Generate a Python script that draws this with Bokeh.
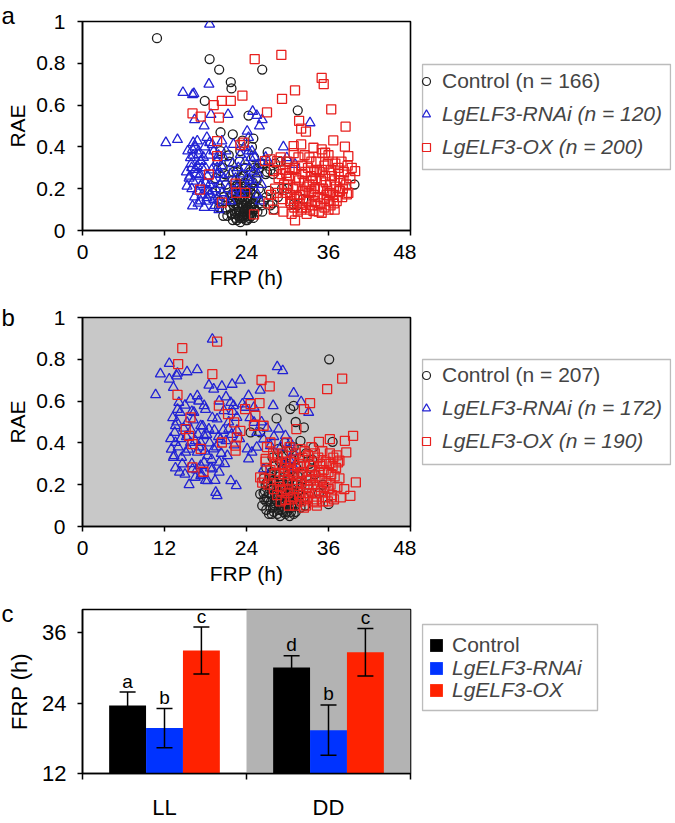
import numpy as np
from bokeh.plotting import figure
from bokeh.layouts import column, row
from bokeh.models import (Range1d, FixedTicker, NumeralTickFormatter, Legend, LegendItem,
                          BoxAnnotation, Whisker, TeeHead, ColumnDataSource)
from bokeh.core.properties import value
from bokeh.embed import file_html
from bokeh.resources import INLINE

FONT = "Liberation Sans"

# ---------------- data ----------------
frp_ticks = [0, 12, 24, 36, 48]
rae_ticks = [0, 0.2, 0.4, 0.6, 0.8, 1.0]

genotypes = ["Control", "LgELF3-RNAi", "LgELF3-OX"]
n_a = [166, 120, 200]
n_b = [207, 172, 190]

# panel a (LL): (FRP h, RAE)
a_control_pts = [
    (10.9, 0.92), (18.6, 0.82), (20.0, 0.77), (26.3, 0.77), (21.7, 0.71), (21.8, 0.68), (17.9, 0.62),
    (31.5, 0.575), (24.3, 0.55), (20.2, 0.47), (22.0, 0.46), (27.1, 0.375), (21.4, 0.36), (23.1, 0.38),
    (25.1, 0.35), (23.8, 0.30), (25.1, 0.30), (26.0, 0.32), (27.0, 0.28), (27.9, 0.27), (29.9, 0.33),
    (29.2, 0.20), (39.8, 0.22), (22.1, 0.28), (23.1, 0.25), (25.5, 0.24), (25.8, 0.20), (25.1, 0.17),
    (26.5, 0.14), (27.5, 0.12), (28.0, 0.10), (26.3, 0.09), (25.1, 0.11), (21.2, 0.07), (22.6, 0.05),
    (24.1, 0.05), (23.4, 0.06), (21.9, 0.08), (24.6, 0.08), (30.9, 0.125), (20.2, 0.20), (20.7, 0.16),
    (20.0, 0.11), (21.7, 0.17),
    (21.8, 0.08), (22.1, 0.12), (22.4, 0.06), (22.6, 0.15), (22.9, 0.09), (23.1, 0.18), (23.3, 0.07),
    (23.5, 0.11), (23.7, 0.14), (23.9, 0.05), (24.1, 0.09), (24.3, 0.16), (24.5, 0.12), (24.7, 0.07),
    (24.9, 0.20), (25.2, 0.10), (22.2, 0.19), (22.7, 0.22), (23.2, 0.13), (23.6, 0.09), (24.0, 0.19),
    (24.4, 0.06), (22.0, 0.14), (23.0, 0.06), (23.8, 0.21), (24.6, 0.15), (25.0, 0.13), (22.5, 0.10),
    (23.4, 0.16), (24.2, 0.11), (21.6, 0.11), (22.8, 0.12), (23.9, 0.12), (24.8, 0.09), (25.4, 0.16),
    (21.9, 0.17), (23.3, 0.20), (24.1, 0.14), (22.3, 0.08), (23.6, 0.06),
    (22.0, 0.05), (22.3, 0.13), (22.5, 0.17), (22.8, 0.07), (23.0, 0.15), (23.2, 0.09), (23.4, 0.12),
    (23.6, 0.18), (23.8, 0.08), (24.0, 0.13), (24.2, 0.07), (24.4, 0.10), (24.6, 0.18), (24.8, 0.13),
    (25.0, 0.06), (23.1, 0.04), (22.4, 0.21), (23.7, 0.23), (24.9, 0.23), (21.8, 0.14), (22.9, 0.19),
    (23.5, 0.07), (24.3, 0.20), (22.6, 0.09), (24.7, 0.11),
    (19.5, 0.25), (20.5, 0.30), (21.0, 0.22), (20.8, 0.27), (21.5, 0.33), (22.0, 0.24), (22.6, 0.28),
    (23.0, 0.33), (23.5, 0.26), (24.2, 0.24), (24.6, 0.28), (25.4, 0.25), (25.8, 0.30), (26.4, 0.32),
    (26.8, 0.27), (27.3, 0.19), (27.8, 0.13), (28.6, 0.16), (26.2, 0.12), (25.6, 0.09), (26.9, 0.16),
    (19.0, 0.18), (20.1, 0.14), (21.0, 0.10), (20.6, 0.07), (28.2, 0.32), (29.0, 0.33), (30.0, 0.20),
    (31.4, 0.12), (32.3, 0.15), (20.2, 0.38), (19.8, 0.33), (24.8, 0.40), (25.0, 0.44), (23.4, 0.43),
    (27.5, 0.29),
]
a_rnai_pts = [
    (18.6, 0.987), (18.5, 0.70), (14.7, 0.66), (16.1, 0.65), (16.3, 0.655), (16.4, 0.53), (17.8, 0.50),
    (18.8, 0.555), (21.3, 0.555), (24.9, 0.57), (25.5, 0.55), (26.3, 0.53), (25.9, 0.50), (33.3, 0.515),
    (29.4, 0.40), (12.2, 0.42), (13.9, 0.435), (24.1, 0.475), (24.3, 0.445), (18.2, 0.445), (18.6, 0.42),
    (16.1, 0.117), (17.8, 0.11), (19.2, 0.11), (19.96, 0.10), (16.2, 0.236), (15.97, 0.30), (15.8, 0.348),
    (16.1, 0.388), (16.8, 0.428), (17.0, 0.364), (17.3, 0.332), (17.5, 0.30), (17.2, 0.268), (18.0, 0.228),
    (18.5, 0.188), (19.2, 0.149), (18.2, 0.157), (17.3, 0.141), (16.8, 0.188), (19.7, 0.30), (20.2, 0.268),
    (19.2, 0.38), (19.7, 0.332), (20.7, 0.348), (22.1, 0.412), (23.1, 0.364), (23.6, 0.396), (24.3, 0.38),
    (24.6, 0.348), (25.1, 0.284), (24.1, 0.252), (25.1, 0.22), (25.6, 0.173), (26.0, 0.141), (22.1, 0.188),
    (21.7, 0.141), (31.1, 0.316), (29.9, 0.348), (20.4, 0.428), (17.3, 0.212), (15.3, 0.212), (15.7, 0.26),
    (16.5, 0.292),
    (15.6, 0.25), (15.9, 0.32), (16.2, 0.36), (16.5, 0.40), (16.8, 0.31), (17.1, 0.26), (17.4, 0.22),
    (17.7, 0.35), (18.0, 0.30), (18.3, 0.26), (18.6, 0.22), (18.9, 0.29), (19.2, 0.24), (19.5, 0.20),
    (19.8, 0.16), (20.1, 0.22), (20.4, 0.18), (20.7, 0.25), (21.0, 0.14), (21.3, 0.20), (16.0, 0.20),
    (16.4, 0.16), (16.9, 0.13), (17.5, 0.17), (18.1, 0.14), (18.7, 0.17), (19.4, 0.12), (16.6, 0.27),
    (17.3, 0.33), (17.9, 0.40), (18.5, 0.36), (19.0, 0.41), (19.7, 0.27), (20.3, 0.31), (21.6, 0.27),
    (22.0, 0.32), (22.4, 0.25), (22.8, 0.30), (23.3, 0.27), (23.8, 0.33), (24.4, 0.30), (24.8, 0.38),
    (25.2, 0.35), (25.7, 0.27), (26.2, 0.22), (22.6, 0.20), (23.2, 0.18), (15.2, 0.28), (15.4, 0.38),
    (16.2, 0.42), (17.0, 0.38), (18.2, 0.19), (19.9, 0.36), (21.0, 0.38), (24.0, 0.20), (24.5, 0.24),
    (25.5, 0.31), (26.8, 0.35), (27.2, 0.33),
]
a_ox_pts = [
    (25.2, 0.82), (29.1, 0.84), (35.0, 0.73), (35.3, 0.70), (31.1, 0.67), (29.2, 0.63), (23.4, 0.645),
    (21.7, 0.62), (20.4, 0.62), (19.2, 0.60), (16.1, 0.56), (17.3, 0.545), (19.96, 0.54), (27.0, 0.565),
    (31.7, 0.525), (32.0, 0.487), (32.7, 0.473), (36.4, 0.58), (38.5, 0.497), (36.7, 0.431), (38.4, 0.401),
    (30.9, 0.404), (32.0, 0.412), (33.8, 0.396), (35.0, 0.388), (35.5, 0.372), (38.9, 0.356), (19.7, 0.428),
    (23.6, 0.42), (23.1, 0.409), (19.7, 0.356), (18.5, 0.268), (17.2, 0.196), (20.4, 0.133), (22.4, 0.224),
    (22.5, 0.18), (23.8, 0.18), (25.1, 0.077), (26.7, 0.332), (27.5, 0.34), (28.0, 0.284), (28.5, 0.332),
    (29.8, 0.276), (31.1, 0.048), (39.9, 0.284), (39.4, 0.30), (38.9, 0.18), (38.7, 0.173), (37.7, 0.188),
    (37.2, 0.141), (36.0, 0.10), (35.0, 0.085), (33.8, 0.093), (32.1, 0.109), (30.4, 0.141), (29.9, 0.204),
    (29.5, 0.22), (29.9, 0.18), (30.2, 0.26), (30.5, 0.13), (30.8, 0.20), (31.1, 0.30), (31.4, 0.16),
    (31.7, 0.24), (32.0, 0.10), (32.3, 0.19), (32.6, 0.28), (32.9, 0.14), (33.2, 0.22), (33.5, 0.33),
    (33.8, 0.17), (34.1, 0.25), (34.4, 0.12), (34.7, 0.20), (35.0, 0.29), (35.3, 0.15), (35.6, 0.23),
    (35.9, 0.32), (36.2, 0.18), (36.5, 0.26), (36.8, 0.13), (37.1, 0.21), (37.4, 0.30), (37.7, 0.24),
    (38.0, 0.16), (38.3, 0.28), (38.6, 0.22), (30.0, 0.33), (30.6, 0.08), (31.0, 0.11), (31.6, 0.35),
    (32.1, 0.31), (32.8, 0.08), (33.0, 0.30), (33.6, 0.12), (33.9, 0.28), (34.2, 0.33), (34.6, 0.09),
    (35.1, 0.37), (35.4, 0.11), (36.0, 0.36), (36.6, 0.33), (36.9, 0.10), (37.3, 0.16), (37.9, 0.33),
    (39.2, 0.25), (29.3, 0.15), (29.6, 0.29), (31.3, 0.21), (31.9, 0.17), (32.4, 0.23), (33.1, 0.18),
    (33.4, 0.26), (34.0, 0.20), (34.9, 0.24), (35.8, 0.19), (36.3, 0.22), (36.7, 0.17), (37.6, 0.19),
    (38.1, 0.20), (30.4, 0.17), (31.8, 0.13), (32.7, 0.11), (34.5, 0.16), (35.2, 0.20), (36.1, 0.14),
    (28.7, 0.25), (28.2, 0.20), (27.6, 0.17), (27.2, 0.13), (28.0, 0.10), (29.0, 0.35), (30.9, 0.37),
    (32.5, 0.36), (30.1, 0.22), (30.7, 0.29), (31.2, 0.25), (31.5, 0.09), (32.2, 0.27), (32.9, 0.21),
    (33.3, 0.10), (33.7, 0.24), (34.3, 0.29), (34.8, 0.13), (35.4, 0.31), (35.7, 0.17), (36.4, 0.29),
    (36.9, 0.24), (37.5, 0.27), (38.2, 0.24), (38.8, 0.31), (30.3, 0.30), (31.0, 0.15), (32.6, 0.19),
    (33.2, 0.35), (34.0, 0.14), (34.7, 0.28), (35.5, 0.26), (36.3, 0.12), (37.0, 0.32), (29.1, 0.27),
    (28.4, 0.18), (29.4, 0.09), (33.5, 0.19),
]

# panel b (DD)
b_control_pts = [
    (36.1, 0.80), (36.6, 0.405), (36.0, 0.107), (30.9, 0.577), (30.4, 0.562), (28.4, 0.517), (31.2, 0.50),
    (32.4, 0.474), (24.6, 0.45), (26.0, 0.45), (31.9, 0.41), (33.8, 0.38), (26.0, 0.155), (27.0, 0.21),
    (27.7, 0.26), (28.9, 0.31), (29.9, 0.34), (30.9, 0.06),
    (27.2, 0.12), (27.5, 0.09), (27.8, 0.15), (28.1, 0.10), (28.4, 0.19), (28.7, 0.08), (29.0, 0.13),
    (29.3, 0.17), (29.6, 0.09), (29.9, 0.21), (30.2, 0.12), (30.5, 0.07), (30.8, 0.16), (31.1, 0.10),
    (31.4, 0.14), (27.4, 0.18), (27.9, 0.22), (28.3, 0.13), (28.8, 0.24), (29.2, 0.10), (29.5, 0.26),
    (29.8, 0.14), (30.1, 0.18), (30.4, 0.23), (30.7, 0.11), (31.0, 0.20), (31.3, 0.28), (28.5, 0.16),
    (29.1, 0.20), (29.7, 0.12), (30.3, 0.09), (27.1, 0.21), (26.7, 0.17), (27.6, 0.25), (28.2, 0.29),
    (28.9, 0.31), (29.4, 0.34), (30.0, 0.29), (30.6, 0.32), (31.5, 0.24), (32.0, 0.19), (32.4, 0.14),
    (32.8, 0.24), (33.2, 0.30), (31.8, 0.33), (30.9, 0.38), (29.6, 0.40), (28.6, 0.37), (27.8, 0.33),
    (26.5, 0.23), (26.9, 0.28), (28.0, 0.07), (29.4, 0.07), (30.0, 0.10), (31.7, 0.12), (32.6, 0.10),
    (26.3, 0.10), (26.6, 0.13), (26.9, 0.08), (27.3, 0.16), (27.7, 0.06), (28.2, 0.11), (28.6, 0.14),
    (28.9, 0.05), (29.2, 0.15), (29.5, 0.11), (29.9, 0.07), (30.3, 0.15), (30.6, 0.18), (31.2, 0.07),
    (26.8, 0.20), (27.4, 0.24), (28.0, 0.18), (29.0, 0.22), (30.1, 0.24), (31.6, 0.17), (32.2, 0.25),
    (33.0, 0.20), (34.0, 0.25), (34.6, 0.16), (35.2, 0.20), (33.6, 0.32), (32.7, 0.35), (31.0, 0.32),
    (30.2, 0.36), (29.3, 0.28),
    (27.0, 0.14), (27.3, 0.06), (27.6, 0.12), (27.9, 0.09), (28.2, 0.15), (28.5, 0.06), (28.8, 0.11),
    (29.1, 0.08), (29.4, 0.13), (29.7, 0.06), (30.0, 0.13), (30.3, 0.05), (30.6, 0.09), (30.9, 0.13),
    (28.0, 0.22), (28.4, 0.25), (29.0, 0.17), (29.6, 0.19), (30.2, 0.21), (30.8, 0.24), (27.5, 0.19),
    (26.9, 0.12), (26.5, 0.16), (31.4, 0.20), (31.9, 0.09),
]
b_rnai_pts = [
    (19.0, 0.896), (12.7, 0.78), (11.4, 0.73), (13.9, 0.733), (15.3, 0.74), (16.8, 0.75), (12.7, 0.705),
    (13.3, 0.665), (10.7, 0.63), (13.8, 0.72), (28.5, 0.764), (29.3, 0.745), (23.1, 0.70), (21.9, 0.68),
    (20.4, 0.67), (19.2, 0.657), (18.5, 0.676), (30.9, 0.638), (26.0, 0.652), (24.3, 0.626), (27.9, 0.578),
    (32.0, 0.597), (33.1, 0.546), (19.5, 0.163), (19.7, 0.147), (21.7, 0.219), (22.5, 0.195), (18.3, 0.219),
    (17.3, 0.243), (16.5, 0.235), (13.4, 0.339), (13.6, 0.402), (13.6, 0.482), (14.3, 0.546), (14.1, 0.593),
    (15.8, 0.609), (16.8, 0.625), (17.8, 0.578), (16.3, 0.546), (15.3, 0.498), (17.3, 0.482), (18.5, 0.466),
    (19.7, 0.514), (20.7, 0.554), (21.7, 0.593), (22.1, 0.578), (22.6, 0.522), (21.4, 0.466), (20.2, 0.418),
    (19.2, 0.371), (21.2, 0.339), (20.0, 0.307), (19.0, 0.275), (17.8, 0.307), (16.8, 0.355), (15.8, 0.402),
    (15.1, 0.355), (14.6, 0.299), (16.1, 0.275), (17.3, 0.291), (18.3, 0.339), (17.3, 0.402), (17.8, 0.434),
    (24.1, 0.371), (24.8, 0.355), (25.5, 0.379), (24.3, 0.323), (26.5, 0.418), (27.5, 0.387), (28.7, 0.466),
    (29.7, 0.434), (30.4, 0.402), (30.9, 0.355), (26.5, 0.275), (25.1, 0.498), (23.4, 0.586), (25.1, 0.570),
    (13.0, 0.37), (13.3, 0.33), (13.5, 0.45), (13.8, 0.50), (14.0, 0.38), (14.4, 0.42), (14.8, 0.47),
    (15.2, 0.43), (15.5, 0.37), (15.9, 0.46), (16.2, 0.51), (16.5, 0.41), (16.9, 0.44), (17.1, 0.38),
    (17.6, 0.48), (17.9, 0.36), (18.2, 0.44), (18.6, 0.40), (18.9, 0.32), (19.3, 0.46), (19.6, 0.38),
    (19.9, 0.43), (20.3, 0.35), (20.6, 0.46), (21.0, 0.41), (21.4, 0.50), (21.8, 0.44), (22.2, 0.39),
    (22.6, 0.46), (23.0, 0.42), (16.0, 0.30), (16.7, 0.27), (17.4, 0.25), (18.0, 0.22), (18.7, 0.28),
    (19.4, 0.22), (20.0, 0.26), (20.8, 0.30), (15.0, 0.25), (14.5, 0.33), (13.2, 0.52), (13.9, 0.56),
    (15.0, 0.58), (16.0, 0.55), (17.0, 0.60), (18.0, 0.56), (19.0, 0.52), (20.0, 0.60), (21.0, 0.62),
    (22.0, 0.55), (23.8, 0.57), (24.5, 0.52), (25.5, 0.45), (26.2, 0.50), (27.0, 0.47), (28.0, 0.43),
    (29.0, 0.38), (29.6, 0.30), (30.3, 0.32), (31.0, 0.28), (13.6, 0.28), (12.9, 0.42), (14.2, 0.26),
    (15.6, 0.20),
]
b_ox_pts = [
    (19.7, 0.885), (14.6, 0.853), (14.0, 0.777), (19.0, 0.729), (13.9, 0.63), (26.2, 0.701), (27.4, 0.67),
    (38.0, 0.708), (35.8, 0.657), (33.3, 0.59), (32.4, 0.562), (24.6, 0.586), (25.9, 0.59), (23.8, 0.562),
    (25.3, 0.53), (19.96, 0.578), (21.3, 0.538), (22.2, 0.498), (15.8, 0.522), (15.1, 0.466), (15.6, 0.434),
    (16.1, 0.394), (17.3, 0.371), (16.1, 0.283), (17.7, 0.262), (20.4, 0.402), (22.6, 0.426), (22.4, 0.387),
    (22.4, 0.363), (23.1, 0.458), (25.1, 0.482), (26.5, 0.482), (27.5, 0.402), (29.9, 0.402), (31.3, 0.466),
    (34.6, 0.405), (36.2, 0.418), (38.4, 0.41), (39.6, 0.434), (38.6, 0.355), (37.6, 0.315), (37.4, 0.307),
    (40.0, 0.211), (39.2, 0.147), (37.8, 0.139), (38.3, 0.179), (36.4, 0.139), (26.0, 0.235), (26.8, 0.323),
    (28.5, 0.339), (28.0, 0.179), (29.7, 0.128), (32.4, 0.09), (34.3, 0.115),
    (28.3, 0.30), (28.8, 0.22), (29.3, 0.35), (29.7, 0.18), (30.1, 0.27), (30.5, 0.13), (30.9, 0.32),
    (31.3, 0.21), (31.7, 0.15), (32.1, 0.26), (32.5, 0.36), (32.9, 0.19), (33.3, 0.29), (33.7, 0.12),
    (34.1, 0.24), (34.5, 0.33), (34.9, 0.17), (35.3, 0.27), (35.7, 0.21), (36.1, 0.30), (36.5, 0.15),
    (36.9, 0.24), (37.3, 0.19), (29.0, 0.12), (30.3, 0.38), (31.1, 0.10), (31.9, 0.37), (32.7, 0.10),
    (33.5, 0.38), (34.3, 0.10), (35.1, 0.36), (35.9, 0.12), (36.7, 0.33), (28.5, 0.15), (29.5, 0.25),
    (30.7, 0.20), (31.5, 0.29), (32.3, 0.16), (33.1, 0.24), (33.9, 0.31), (34.7, 0.22), (35.5, 0.14),
    (36.3, 0.20), (37.1, 0.28), (37.6, 0.23), (27.5, 0.27), (27.9, 0.35), (27.2, 0.20), (26.6, 0.23),
    (26.3, 0.21), (33.0, 0.14), (34.0, 0.16), (32.0, 0.21), (30.0, 0.16), (31.0, 0.25), (35.0, 0.23),
    (36.0, 0.26), (27.0, 0.38), (26.8, 0.31), (29.8, 0.31),
    (28.1, 0.25), (28.6, 0.33), (29.1, 0.17), (29.6, 0.28), (30.0, 0.22), (30.4, 0.31), (30.8, 0.14),
    (31.2, 0.35), (31.6, 0.24), (32.0, 0.12), (32.4, 0.29), (32.8, 0.22), (33.2, 0.16), (33.6, 0.27),
    (34.0, 0.35), (34.4, 0.19), (34.8, 0.29), (35.2, 0.12), (35.6, 0.31), (36.0, 0.18), (36.4, 0.25),
    (36.8, 0.13), (37.2, 0.34), (31.4, 0.18), (32.2, 0.33), (33.0, 0.34), (33.8, 0.20), (34.6, 0.26),
    (35.4, 0.19), (36.2, 0.35), (29.2, 0.30), (30.6, 0.26), (31.8, 0.30), (33.4, 0.22), (35.0, 0.30),
    (28.9, 0.19), (30.2, 0.10), (32.6, 0.13), (34.2, 0.13), (36.6, 0.29),
]

# panel c: mean FRP (h) and SD for LL and DD
conditions = ["LL", "DD"]
frp_ticks_c = [12, 24, 36]
frp_mean = {"Control": [23.6, 30.1], "LgELF3-RNAi": [19.75, 19.4], "LgELF3-OX": [33.0, 32.7]}
frp_sd = {"Control": [2.3, 2.0], "LgELF3-RNAi": [3.35, 4.3], "LgELF3-OX": [4.0, 4.05]}
sig_letters = {"Control": ["a", "d"], "LgELF3-RNAi": ["b", "b"], "LgELF3-OX": ["c", "c"]}

# ---------------- styles / layout ----------------
scatter_style = {
    "Control": dict(marker="circle", size=9, line_color="#1e1e1e"),
    "LgELF3-RNAi": dict(marker="triangle", size=10, line_color="#2222d4"),
    "LgELF3-OX": dict(marker="square", size=9, line_color="#e8201e"),
}
bar_colors = {"Control": "#000000", "LgELF3-RNAi": "#0033ff", "LgELF3-OX": "#ff2200"}

MAIN_W, LEG_W = 416, 258
B_LEFT, B_RIGHT = 82, 6          # main figure borders (frame 328 px wide)
LB_LEFT, LB_RIGHT = 5, 3         # legend figure borders (frame 250 px wide)
FAR = Range1d(1000, 1001)         # empty view for the legend figures


def style_axes(p, label_size="21px"):
    for ax in (p.xaxis[0], p.yaxis[0]):
        ax.axis_line_color = "black"
        ax.axis_line_width = 1.5
        ax.major_tick_line_color = "black"
        ax.major_tick_line_width = 1.5
        ax.major_tick_out = 5
        ax.major_tick_in = 0
        ax.minor_tick_line_color = None
        ax.major_label_text_font = FONT
        ax.major_label_text_font_size = label_size
        ax.major_label_text_color = "black"
        ax.axis_label_text_font = FONT
        ax.axis_label_text_font_size = label_size
        ax.axis_label_text_font_style = "normal"
        ax.axis_label_text_color = "black"
    p.grid.visible = False
    p.outline_line_color = "black"
    p.outline_line_width = 1.6


def panel_letter(p, letter, standoff):
    t = p.title
    t.text = letter
    t.align = "left"
    t.offset = -B_LEFT + 1
    t.vertical_align = "bottom"
    t.standoff = standoff
    t.text_font = FONT
    t.text_font_size = "24px"
    t.text_font_style = "normal"
    t.text_color = "black"


def scatter_panel(letter, sets, bg, top_border, bottom_border, height, letter_standoff):
    p = figure(width=MAIN_W, height=height, x_range=Range1d(0, 48), y_range=Range1d(0, 1),
               output_backend="svg", toolbar_location=None,
               min_border_left=B_LEFT, min_border_right=B_RIGHT,
               min_border_top=top_border, min_border_bottom=bottom_border,
               background_fill_color=bg, border_fill_color="white")
    style_axes(p)
    p.xaxis.ticker = FixedTicker(ticks=frp_ticks)
    p.yaxis.ticker = FixedTicker(ticks=rae_ticks)
    p.yaxis.formatter = NumeralTickFormatter(format="0.[0]")
    p.xaxis.axis_label = "FRP (h)"
    p.yaxis.axis_label = "RAE"
    p.xaxis.major_label_standoff = 9
    p.xaxis.axis_label_standoff = 4
    p.yaxis.major_label_standoff = 12
    p.yaxis.axis_label_standoff = 4
    for g, pts in zip(genotypes, sets):
        st = scatter_style[g]
        p.scatter([pt[0] for pt in pts], [pt[1] for pt in pts], marker=st["marker"], size=st["size"],
                  line_color=st["line_color"], fill_color=None, line_width=1.3)
    panel_letter(p, letter, letter_standoff)
    return p


def legend_frame(height, top_border, bottom_border, box_bottom, box_top, box_w):
    lf = figure(width=LEG_W, height=height, x_range=FAR, y_range=FAR,
                x_axis_type=None, y_axis_type=None, output_backend="svg", toolbar_location=None,
                min_border_left=LB_LEFT, min_border_right=LB_RIGHT,
                min_border_top=top_border, min_border_bottom=bottom_border)
    lf.grid.visible = False
    lf.outline_line_color = None
    lf.add_layout(BoxAnnotation(left=1, right=box_w, bottom=box_bottom, top=box_top,
                                left_units="screen", right_units="screen",
                                bottom_units="screen", top_units="screen",
                                fill_alpha=0, line_color="#222222", line_width=1.4, level="overlay"))
    return lf


def scatter_legend(sets, ns, height, top_border, bottom_border, box_bottom, box_top, item_bottoms):
    lf = legend_frame(height, top_border, bottom_border, box_bottom, box_top, 249)
    for g, pts, n, yb in zip(genotypes, sets, ns, item_bottoms):
        st = scatter_style[g]
        r = lf.scatter([pt[0] for pt in pts], [pt[1] for pt in pts], marker=st["marker"],
                       line_color=st["line_color"], fill_color=None, line_width=1.2)
        leg = Legend(items=[LegendItem(label=f"{g} (n = {n})", renderers=[r])],
                     location=(-5, yb), padding=0, margin=0, spacing=0,
                     border_line_color=None, background_fill_alpha=0,
                     glyph_width=20, glyph_height=24, label_height=20, label_standoff=6,
                     label_text_font=FONT, label_text_font_size="21px",
                     label_text_font_style="normal" if g == "Control" else "italic")
        lf.add_layout(leg)
    return lf


a_sets = [a_control_pts, a_rnai_pts, a_ox_pts]
b_sets = [b_control_pts, b_rnai_pts, b_ox_pts]
pa = scatter_panel("a", a_sets, "white", 21, 73, 303, -14)
la = scatter_legend(a_sets, n_a, 303, 21, 73, 61, 166, [137, 104, 71])
pb = scatter_panel("b", b_sets, "#c8c8c8", 14, 72, 295, -26)
lb = scatter_legend(b_sets, n_b, 295, 14, 72, 62, 167, [139, 106, 73])

# ---------------- panel c ----------------
C_H, C_TOP, C_BOT = 224, 11, 42
pc = figure(width=MAIN_W, height=C_H, x_range=Range1d(0, len(conditions)), y_range=Range1d(12, 40),
            output_backend="svg", toolbar_location=None,
            min_border_left=B_LEFT, min_border_right=B_RIGHT, min_border_top=C_TOP, min_border_bottom=C_BOT)
style_axes(pc, "22px")
pc.yaxis.ticker = FixedTicker(ticks=frp_ticks_c)
pc.yaxis.axis_label = "FRP (h)"
pc.yaxis.major_label_standoff = 11
pc.yaxis.axis_label_standoff = 7
centers = [i + 0.5 for i in range(len(conditions))]
pc.xaxis.ticker = FixedTicker(ticks=centers, minor_ticks=list(range(len(conditions) + 1)))
pc.xaxis.major_label_overrides = {c: lab for c, lab in zip(centers, conditions)}
pc.xaxis.major_tick_out = 0
pc.xaxis.major_tick_line_color = None
pc.xaxis.minor_tick_line_color = "black"
pc.xaxis.minor_tick_line_width = 1.5
pc.xaxis.minor_tick_out = 6
pc.xaxis.minor_tick_in = 0
pc.xaxis.major_label_standoff = 15

dd = conditions.index("DD")
pc.add_layout(BoxAnnotation(left=dd, right=dd + 1, fill_color="#b3b3b3", fill_alpha=1.0,
                            line_color=None, level="underlay"))

bar_w = 0.225
offsets = [-bar_w, 0.0, bar_w]
bar_sources = {}
for g, off in zip(genotypes, offsets):
    mean = np.array(frp_mean[g])
    sd = np.array(frp_sd[g])
    src = ColumnDataSource(dict(x=[c + off for c in centers], top=mean, upper=mean + sd,
                                lower=mean - sd, lab=sig_letters[g]))
    bar_sources[g] = src
    pc.vbar(x="x", top="top", bottom=12, width=bar_w, source=src,
            fill_color=bar_colors[g], line_color=None)
    pc.add_layout(Whisker(source=src, base="x", upper="upper", lower="lower", line_color="black",
                          line_width=1.5, level="overlay",
                          upper_head=TeeHead(size=16, line_width=1.5, line_color="black"),
                          lower_head=TeeHead(size=16, line_width=1.5, line_color="black")))
    pc.text(x="x", y="upper", text="lab", source=src, y_offset=-11, text_align="center",
            text_baseline="alphabetic", text_font=value(FONT), text_font_size=value("19px"),
            text_color="black")
panel_letter(pc, "c", -34)

lc = legend_frame(C_H, C_TOP, C_BOT, 63, 149, 176)
for g, yb in zip(genotypes, [112, 89, 67]):
    r = lc.scatter(x="x", y="top", source=bar_sources[g], marker="square",
                   fill_color=bar_colors[g], line_color=None)
    lc.add_layout(Legend(items=[LegendItem(label=g, renderers=[r])], location=(-1, yb),
                         padding=0, margin=0, spacing=0, border_line_color=None, background_fill_alpha=0,
                         glyph_width=32, glyph_height=32, label_height=20, label_standoff=-7,
                         label_text_font=FONT, label_text_font_size="21px",
                         label_text_font_style="normal" if g == "Control" else "italic"))

layout = column(row(pa, la), row(pb, lb), row(pc, lc))
open("out.html", "w").write(file_html(layout, INLINE))
